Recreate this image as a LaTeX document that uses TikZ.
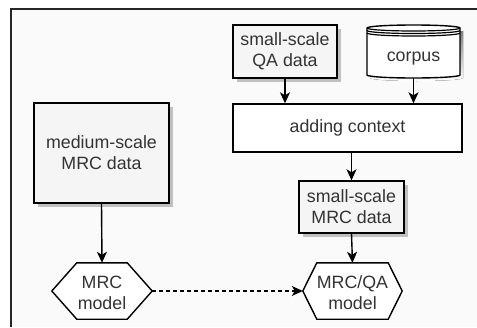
\documentclass[tikz,border=0pt]{standalone}
\usepackage{fontspec}
\setmainfont{Liberation Sans}
\usetikzlibrary{arrows.meta}
\definecolor{txt}{HTML}{333333}
\definecolor{boxfill}{HTML}{F5F5F5}
\definecolor{bg}{HTML}{FAFAFA}
\definecolor{shade}{HTML}{C0C0C0}
\tikzset{
  lbl/.style={font=\fontsize{17.8}{21}\selectfont, text=txt, align=center, inner sep=0pt},
  databox/.style={lbl, draw=black, line width=1.4pt, fill=boxfill,
    preaction={fill=shade, transform canvas={xshift=3.5pt, yshift=-3.5pt}}},
  procbox/.style={lbl, draw=black, line width=1.4pt, fill=white},
  ghost/.style={lbl},
  conn/.style={line width=1.4pt, -{Stealth[length=11pt,width=10pt,inset=3pt]}},
  shapeline/.style={draw=black, line width=1.4pt, fill=white}
}
\begin{document}
\begin{tikzpicture}[x=1pt,y=-1pt]
\useasboundingbox (0,0) rectangle (477,327);
% background frame
\fill[bg] (11,9) rectangle (477,327);
\draw[line width=1.4pt, black!85] (11,327) -- (11,9) -- (477,9);

% nodes
\node[databox, minimum width=135pt, minimum height=100pt] (med) at (101.5,153) {medium-scale\\MRC data};
\node[databox, minimum width=104pt, minimum height=53pt] (qa) at (285,51.5) {small-scale\\QA data};
\node[procbox, minimum width=229pt, minimum height=48pt] (ctx) at (347.5,128) {adding context};
\node[databox, minimum width=105pt, minimum height=52pt] (smrc) at (351.5,207) {small-scale\\MRC data};

% corpus cylinder
\node[ghost, minimum width=93pt, minimum height=53pt] (corpus) at (413.5,51.5) {};
\fill[shade] (370,31) -- (370,78) arc[start angle=180,end angle=360,x radius=46.5pt,y radius=3pt] -- (463,31) -- cycle;
\draw[shapeline] (367,28) -- (367,75) arc[start angle=180,end angle=360,x radius=46.5pt,y radius=3pt] -- (460,28)
  arc[start angle=0,end angle=180,x radius=46.5pt,y radius=3pt] -- cycle;
\draw[line width=1.2pt] (367,28) arc[start angle=180,end angle=360,x radius=46.5pt,y radius=3pt];
\draw[line width=1.2pt] (367,30.5) arc[start angle=180,end angle=360,x radius=46.5pt,y radius=3pt];
\draw[line width=1.2pt] (367,33) arc[start angle=180,end angle=360,x radius=46.5pt,y radius=3pt];
\node[lbl] at (413.5,59) {corpus};

% hexagons
\node[ghost, minimum width=100pt, minimum height=56pt] (mrc) at (102,291) {};
\draw[shapeline] (mrc.west) -- ([xshift=25pt]mrc.north west) -- ([xshift=-25pt]mrc.north east)
  -- (mrc.east) -- ([xshift=-25pt]mrc.south east) -- ([xshift=25pt]mrc.south west) -- cycle;
\node[lbl] at (102,292.5) {MRC\\model};

\node[ghost, minimum width=99pt, minimum height=56pt] (mrcqa) at (352.5,291) {};
\draw[shapeline] (mrcqa.west) -- ([xshift=14pt]mrcqa.north west) -- ([xshift=-14pt]mrcqa.north east)
  -- (mrcqa.east) -- ([xshift=-14pt]mrcqa.south east) -- ([xshift=14pt]mrcqa.south west) -- cycle;
\node[lbl] at (352.5,292.5) {MRC/QA\\model};

% connectors
\draw[conn] (qa.south) -- (qa.south |- ctx.north);
\draw[conn] (corpus.south) -- (corpus.south |- ctx.north);
\draw[conn] (ctx.south -| smrc.north) -- (smrc.north);
\draw[conn] (smrc.south) -- (mrcqa.north);
\draw[conn] (med.south) -- (mrc.north);
\draw[conn, dash pattern=on 4pt off 3pt] (mrc.east) -- (mrcqa.west);
\end{tikzpicture}
\end{document}
